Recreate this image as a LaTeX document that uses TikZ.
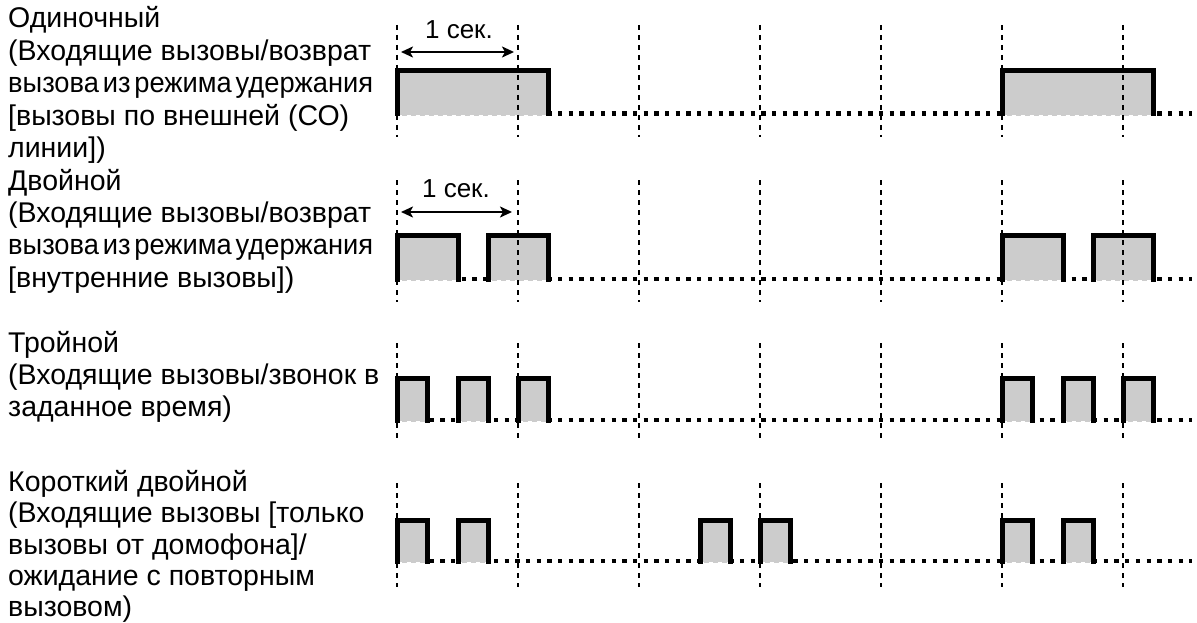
\documentclass[tikz,border=0pt]{standalone}
\usepackage{fontspec}
\setmainfont{Liberation Sans}
\usetikzlibrary{arrows.meta}
\tikzset{
  dotline/.style={line width=4.5pt, dash pattern=on 4.3pt off 6.4pt},
  pulsefill/.style={fill=black!20},
  pulseline/.style={line width=5pt, line cap=rect, line join=miter},
  vdash/.style={line width=1.2pt, dash pattern=on 5pt off 5pt},
  secarrow/.style={line width=2pt, {Stealth[length=12pt,width=11pt,inset=3pt]}-{Stealth[length=12pt,width=11pt,inset=3pt]}},
  lbltext/.style={anchor=base west, inner sep=0pt},
  seclabel/.style={anchor=base, inner sep=0pt, font=\fontsize{26}{30}\selectfont}
}
\newcommand\wavrow[5]{%
  \draw[dotline] (397.5,#1) -- (1192,#1);
  \foreach \s/\e in {#5} {
    \fill[pulsefill] ({397.5+121*\s},#2) rectangle ({397.5+121*\e},#1+2.2);
    \draw[white, line width=1pt, dash pattern=on 4pt off 5pt] ({397.5+121*\s},#1+1.8) -- ({397.5+121*\e},#1+1.8);
    \draw[pulseline] ({397.5+121*\s},#1) -- ({397.5+121*\s},#2) -- ({397.5+121*\e},#2) -- ({397.5+121*\e},#1);
  }
  \foreach \k in {0,...,6} \draw[vdash] ({397+121*\k},#3) -- ({397+121*\k},#4);
}
\newcommand\lbl[2][32.4]{\parbox[t]{380pt}{\raggedright\fontsize{28.5}{#1}\selectfont #2}}
\newcommand\tightline[1]{\resizebox{365pt}{\height}{\mbox{\spaceskip=4pt #1}}}
\begin{document}
\begin{tikzpicture}[x=1pt,y=-1pt]
\useasboundingbox (0,0) rectangle (1197,623);
% texts
\node[lbltext] (t1) at (8,28) {\lbl{Одиночный\\(Входящие вызовы/возврат\\\tightline{вызова из режима удержания}\\\relax[вызовы по внешней (СО)\\линии])}};
\node[lbltext] (t2) at (8,190) {\lbl{Двойной\\(Входящие вызовы/возврат\\\tightline{вызова из режима удержания}\\\relax[внутренние вызовы])}};
\node[lbltext] (t3) at (8,352) {\lbl{Тройной\\(Входящие вызовы/звонок в\\заданное время)}};
\node[lbltext] (t4) at (8,491.5) {\lbl[31.3]{Короткий двойной\\(Входящие вызовы [только\\вызовы от домофона]/\\ожидание с повторным\\вызовом)}};
% rows
\wavrow{113.5}{70.5}{25}{137}{0/1.25,5/6.25}
\wavrow{279}{235.5}{180}{302}{0/0.5,0.75/1.25,5/5.5,5.75/6.25}
\wavrow{420}{378}{343}{441}{0/0.25,0.5/0.75,1/1.25,5/5.25,5.5/5.75,6/6.25}
\wavrow{561}{520}{483}{587}{0/0.25,0.5/0.75,2.5/2.75,3/3.25,5/5.25,5.5/5.75}
% one-second markers
\coordinate (a1) at (401,52);
\coordinate (b1) at (514,52);
\draw[secarrow] (a1) -- (b1);
\node[seclabel] (s1) at (459,39) {1 сек.};
\coordinate (a2) at (401,212);
\coordinate (b2) at (512,212);
\draw[secarrow] (a2) -- (b2);
\node[seclabel] (s2) at (456,197) {1 сек.};
\end{tikzpicture}
\end{document}
